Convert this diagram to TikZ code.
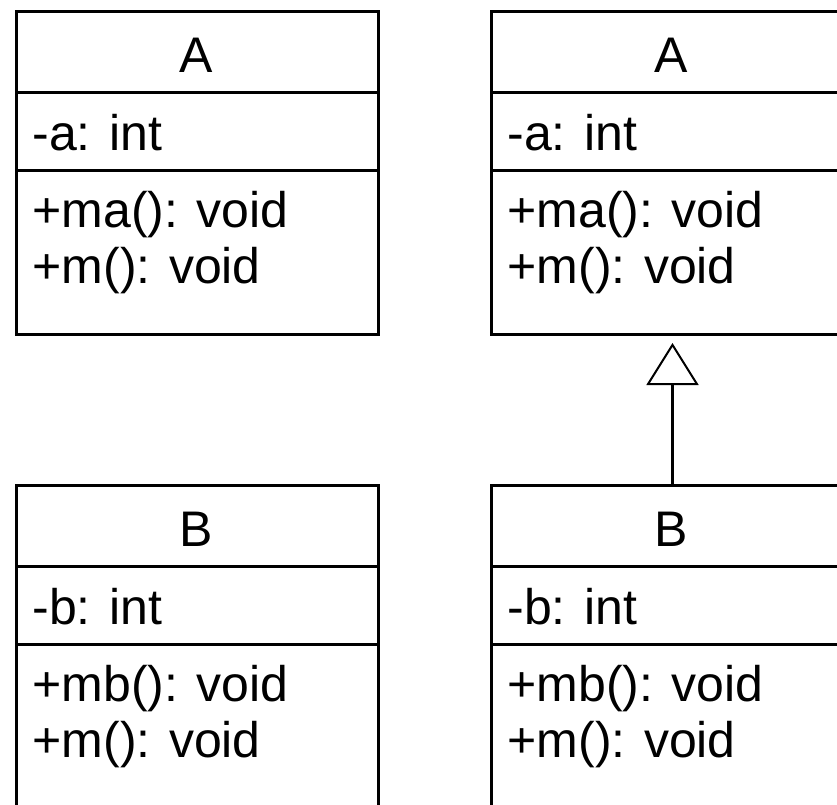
\documentclass[tikz,border=0pt]{standalone}
\usepackage{fontspec}
\setmainfont{Liberation Sans}
\usetikzlibrary{arrows.meta}
\newcommand\umlclass[7]{%
  \node[classbox] (#1) at (#2,#3) {};
  \draw ({#2},{#3+82}) -- ({#2+362},{#3+82});
  \draw ({#2},{#3+160}) -- ({#2+362},{#3+160});
  \node[ttl] (#1-t) at ({#2+181},{#3+62}) {#4};
  \node[txt] (#1-a) at ({#2+16},{#3+140}) {#5};
  \node[txt] (#1-m1) at ({#2+16},{#3+217}) {#6};
  \node[txt] (#1-m2) at ({#2+16},{#3+273}) {#7};
}
\begin{document}
\begin{tikzpicture}[x=1pt,y=-1pt,line width=3pt,
  classbox/.style={draw, rectangle, minimum width=362pt, minimum height=323pt, anchor=north west, inner sep=0pt, line width=3pt},
  txt/.style={anchor=base west, inner sep=0pt, font=\fontsize{50}{60}\selectfont},
  ttl/.style={anchor=base, inner sep=0pt, font=\fontsize{50}{60}\selectfont},
  inherit/.style={-{Triangle[open,length=42pt,width=52pt,line width=2pt]}, shorten >=7pt, line width=3pt}]
\useasboundingbox (0,0) rectangle (837,804);
\clip (0,0) rectangle (837,804);
\fill[white] (0,0) rectangle (837,804);
\umlclass{A1}{15}{10}{A}{-a: int}{+ma(): void}{+m(): void}
\umlclass{A2}{490}{10}{A}{-a: int}{+ma(): void}{+m(): void}
\umlclass{B1}{15}{484}{B}{-b: int}{+mb(): void}{+m(): void}
\umlclass{B2}{490}{484}{B}{-b: int}{+mb(): void}{+m(): void}
\draw[inherit] (B2.north) -- (A2.south);
\end{tikzpicture}
\end{document}
